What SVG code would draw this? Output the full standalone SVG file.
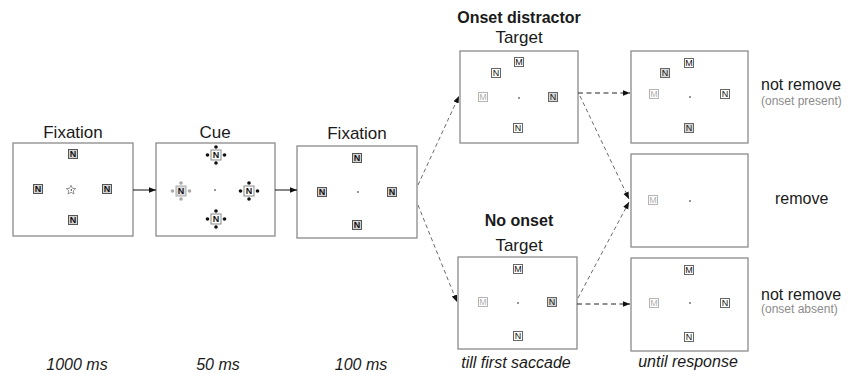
<svg xmlns="http://www.w3.org/2000/svg" width="857" height="377" viewBox="0 0 857 377">
<style>
.bg{fill:#fff}
.box{fill:#fff;stroke:#8a8a8a;stroke-width:1.3}
.t{font-family:"Liberation Sans",Arial,sans-serif;fill:#1a1a1a}
.ttl{font-size:17px;text-anchor:middle}
.bold{font-size:16px;font-weight:bold;text-anchor:middle}
.tm{font-size:16px;font-style:italic;text-anchor:middle}
.lab{font-size:16px}
.sub{font-size:12px;fill:#8c8c8c}
.sqf{fill:#d4d4d4;stroke:#555;stroke-width:1}
.sqw{fill:#fff;stroke:#666;stroke-width:1}
.sqd{fill:#d8d8d8;stroke:#666;stroke-width:1}
.sqg{fill:#fff;stroke:#b5b5b5;stroke-width:1}
.sqc{fill:#fff;stroke:#888;stroke-width:1}
.sqcg{fill:#ddd;stroke:#aaa;stroke-width:1}
.ln{font-family:"Liberation Sans",Arial,sans-serif;font-size:9px;text-anchor:middle;fill:#111}
.lnb{font-weight:bold}
.lng{fill:#b0b0b0}
.lnm{fill:#555}
.dot{fill:#111}
.dotg{fill:#aaa}
.fix{fill:#111}
.solid{stroke:#111;stroke-width:1;fill:none}
.dash{stroke:#444;stroke-width:0.8;stroke-dasharray:4 3;fill:none}
.dashh{stroke:#222;stroke-width:1;stroke-dasharray:5 3.5;fill:none}
</style>
<defs>
<marker id="ah" viewBox="0 0 10 10" refX="10" refY="5" markerWidth="7" markerHeight="7" orient="auto" markerUnits="userSpaceOnUse">
<path d="M0,1 L10,5 L0,9 z" fill="#111"/>
</marker>
</defs>
<rect class="bg" x="0" y="0" width="857" height="377"/>

<g id="fixation1">
<text class="t ttl" x="73" y="138">Fixation</text>
<rect class="box" x="13" y="143" width="120" height="93"/>
<rect class="sqf" x="68.5" y="149.5" width="9" height="9"/><text class="ln lnb" x="73" y="157.3">N</text>
<rect class="sqf" x="33.5" y="184.5" width="9" height="9"/><text class="ln lnb" x="38" y="192.3">N</text>
<rect class="sqf" x="102.5" y="184.5" width="9" height="9"/><text class="ln lnb" x="107" y="192.3">N</text>
<rect class="sqf" x="68.5" y="215.5" width="9" height="9"/><text class="ln lnb" x="73" y="223.3">N</text>
<path d="M71,185.2 L72.4,188.3 L75.7,188.6 L73.2,190.8 L74,194 L71,192.3 L68,194 L68.8,190.8 L66.3,188.6 L69.6,188.3 Z" fill="#fff" stroke="#777" stroke-width="0.8"/>
<circle class="fix" cx="71.3" cy="190" r="0.7"/>
</g>

<g id="cue">
<text class="t ttl" x="215" y="138">Cue</text>
<rect class="box" x="156" y="143" width="119" height="93"/>
<g>
<circle class="dot" cx="216" cy="147" r="1.8"/><circle class="dot" cx="216" cy="163" r="1.8"/><circle class="dot" cx="207.5" cy="155" r="1.8"/><circle class="dot" cx="224.5" cy="155" r="1.8"/>
<rect class="sqc" x="211" y="150" width="10" height="10"/><text class="ln lnb" x="216" y="158.3">N</text>
</g>
<g>
<circle class="dotg" cx="181" cy="183" r="1.8"/><circle class="dotg" cx="181" cy="199" r="1.8"/><circle class="dotg" cx="172.5" cy="191" r="1.8"/><circle class="dotg" cx="189.5" cy="191" r="1.8"/>
<rect class="sqcg" x="176" y="186" width="10" height="10"/><text class="ln lnb" x="181" y="194.3">N</text>
</g>
<g>
<circle class="dot" cx="249" cy="183" r="1.8"/><circle class="dot" cx="249" cy="199" r="1.8"/><circle class="dot" cx="240.5" cy="191" r="1.8"/><circle class="dot" cx="257.5" cy="191" r="1.8"/>
<rect class="sqc" x="244" y="186" width="10" height="10"/><text class="ln lnb" x="249" y="194.3">N</text>
</g>
<g>
<circle class="dot" cx="216" cy="211" r="1.8"/><circle class="dot" cx="216" cy="227" r="1.8"/><circle class="dot" cx="207.5" cy="219" r="1.8"/><circle class="dot" cx="224.5" cy="219" r="1.8"/>
<rect class="sqc" x="211" y="214" width="10" height="10"/><text class="ln lnb" x="216" y="222.3">N</text>
</g>
<circle class="fix" cx="215" cy="190" r="0.8"/>
</g>

<g id="fixation2">
<text class="t ttl" x="357" y="139">Fixation</text>
<rect class="box" x="297" y="146" width="120" height="92"/>
<rect class="sqf" x="352.5" y="153.5" width="9" height="9"/><text class="ln lnb" x="357" y="161.3">N</text>
<rect class="sqf" x="317.5" y="187.5" width="9" height="9"/><text class="ln lnb" x="322" y="195.3">N</text>
<rect class="sqf" x="387.5" y="187.5" width="9" height="9"/><text class="ln lnb" x="392" y="195.3">N</text>
<rect class="sqf" x="352.5" y="220.5" width="9" height="9"/><text class="ln lnb" x="357" y="228.3">N</text>
<circle class="fix" cx="358" cy="192" r="0.8"/>
</g>

<g id="onset-target">
<text class="t bold" x="519" y="23">Onset distractor</text>
<text class="t ttl" x="519" y="43">Target</text>
<rect class="box" x="460" y="51" width="118" height="92"/>
<rect class="sqw" x="514.5" y="57.5" width="9" height="9"/><text class="ln" x="519" y="65.3">M</text>
<rect class="sqw" x="491.5" y="68.5" width="9" height="9"/><text class="ln" x="496" y="76.3">N</text>
<rect class="sqg" x="478.5" y="92.5" width="9" height="9"/><text class="ln lng" x="483" y="100.3">M</text>
<rect class="sqd" x="548.5" y="92.5" width="9" height="9"/><text class="ln" x="553" y="100.3">N</text>
<rect class="sqw" x="513.5" y="123.5" width="9" height="9"/><text class="ln" x="518" y="131.3">N</text>
<circle class="fix" cx="519" cy="98" r="0.8"/>
</g>

<g id="noonset-target">
<text class="t bold" x="519" y="226">No onset</text>
<text class="t ttl" x="519" y="251">Target</text>
<rect class="box" x="458" y="257" width="119" height="92"/>
<rect class="sqw" x="513.5" y="264.5" width="9" height="9"/><text class="ln" x="518" y="272.3">M</text>
<rect class="sqg" x="478.5" y="297.5" width="9" height="9"/><text class="ln lng" x="483" y="305.3">M</text>
<rect class="sqd" x="547.5" y="297.5" width="9" height="9"/><text class="ln" x="552" y="305.3">N</text>
<rect class="sqw" x="513.5" y="331.5" width="9" height="9"/><text class="ln" x="518" y="339.3">N</text>
<circle class="fix" cx="518" cy="303" r="0.8"/>
</g>

<g id="resp-onset-present">
<rect class="box" x="631" y="51" width="117" height="92"/>
<rect class="sqw" x="684.5" y="58.5" width="9" height="9"/><text class="ln" x="689" y="66.3">M</text>
<rect class="sqd" x="660.5" y="68.5" width="9" height="9"/><text class="ln" x="665" y="76.3">N</text>
<rect class="sqg" x="649.5" y="89.5" width="9" height="9"/><text class="ln lng" x="654" y="97.3">M</text>
<rect class="sqw" x="720.5" y="89.5" width="9" height="9"/><text class="ln" x="725" y="97.3">N</text>
<rect class="sqd" x="684.5" y="123.5" width="9" height="9"/><text class="ln" x="689" y="131.3">N</text>
<circle class="fix" cx="690" cy="97" r="0.8"/>
<text class="t lab" x="761" y="90">not remove</text>
<text class="t sub" x="761" y="105">(onset present)</text>
</g>

<g id="resp-remove">
<rect class="box" x="631" y="154" width="117" height="93"/>
<rect class="sqg" x="648.5" y="195.5" width="9" height="9"/><text class="ln lng" x="653" y="203.3">M</text>
<circle class="fix" cx="690" cy="201" r="0.8"/>
<text class="t lab" x="775" y="204">remove</text>
</g>

<g id="resp-onset-absent">
<rect class="box" x="631" y="258" width="117" height="93"/>
<rect class="sqw" x="684.5" y="265.5" width="9" height="9"/><text class="ln" x="689" y="273.3">M</text>
<rect class="sqg" x="649.5" y="298.5" width="9" height="9"/><text class="ln lng" x="654" y="306.3">M</text>
<rect class="sqw" x="720.5" y="298.5" width="9" height="9"/><text class="ln" x="725" y="306.3">N</text>
<rect class="sqw" x="684.5" y="332.5" width="9" height="9"/><text class="ln" x="689" y="340.3">N</text>
<circle class="fix" cx="690" cy="303" r="0.8"/>
<text class="t lab" x="761" y="300">not remove</text>
<text class="t sub" x="761" y="313">(onset absent)</text>
</g>

<g id="timings">
<text class="t tm" x="77" y="370">1000 ms</text>
<text class="t tm" x="218" y="370">50 ms</text>
<text class="t tm" x="361" y="370">100 ms</text>
<text class="t tm" x="516" y="368">till first saccade</text>
<text class="t tm" x="688" y="367">until response</text>
</g>

<g id="connectors">
<line class="solid" x1="133" y1="190" x2="156" y2="190" marker-end="url(#ah)"/>
<line class="solid" x1="275" y1="190" x2="297" y2="190" marker-end="url(#ah)"/>
<line class="dash" x1="418" y1="185" x2="459" y2="96" marker-end="url(#ah)"/>
<line class="dash" x1="418" y1="205" x2="457" y2="302" marker-end="url(#ah)"/>
<line class="dashh" x1="578" y1="93" x2="630" y2="93" marker-end="url(#ah)"/>
<line class="dash" x1="580" y1="96" x2="629" y2="199" marker-end="url(#ah)"/>
<line class="dash" x1="578" y1="298" x2="629" y2="202" marker-end="url(#ah)"/>
<line class="dashh" x1="577" y1="304" x2="630" y2="304" marker-end="url(#ah)"/>
</g>
</svg>
